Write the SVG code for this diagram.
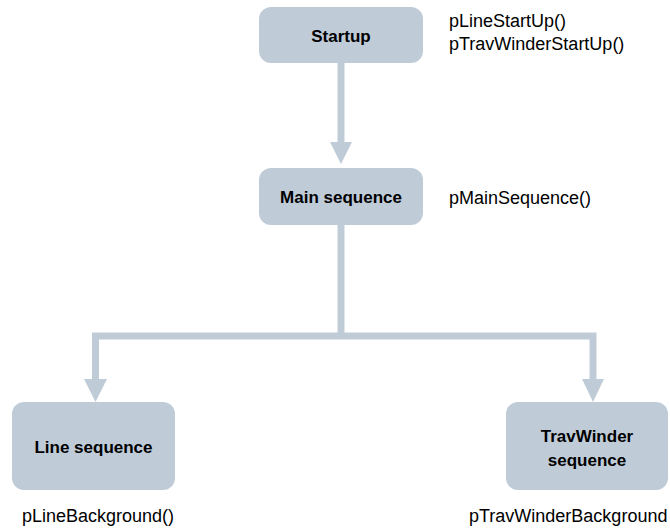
<svg xmlns="http://www.w3.org/2000/svg" width="670" height="530" viewBox="0 0 670 530">
<style>
.box{fill:#BFCCD8}
.lbl{font-family:"Liberation Sans",Arial,sans-serif;font-weight:bold;font-size:17px;fill:#000;text-anchor:middle}
.fn{font-family:"Liberation Sans",Arial,sans-serif;font-size:18px;fill:#000}
.ln{fill:none;stroke:#BFCCD8;stroke-width:7}
.hd{fill:#BFCCD8}
</style>
<rect width="670" height="530" fill="#fff"/>
<g id="connectors">
<line class="ln" x1="341" y1="63" x2="341" y2="143"/>
<polygon class="hd" points="330,142 352,142 341,164"/>
<line class="ln" x1="341" y1="225" x2="341" y2="336"/>
<polyline class="ln" points="95.5,380 95.5,336 593,336 593,380"/>
<polygon class="hd" points="84,379 107,379 95.5,402"/>
<polygon class="hd" points="582,379 604,379 593,402"/>
</g>
<g id="startup">
<rect class="box" x="259" y="7" width="164" height="56" rx="12"/>
<text class="lbl" x="341" y="42">Startup</text>
<text class="fn" x="449" y="27">pLineStartUp()</text>
<text class="fn" x="449" y="50">pTravWinderStartUp()</text>
</g>
<g id="main">
<rect class="box" x="259" y="168" width="164" height="57" rx="12"/>
<text class="lbl" x="341" y="203">Main sequence</text>
<text class="fn" x="449" y="204">pMainSequence()</text>
</g>
<g id="line">
<rect class="box" x="12" y="402" width="163" height="88" rx="12"/>
<text class="lbl" x="93.5" y="453">Line sequence</text>
<text class="fn" x="22" y="522">pLineBackground()</text>
</g>
<g id="travwinder">
<rect class="box" x="506" y="402" width="162" height="88" rx="12"/>
<text class="lbl" x="587" y="442">TravWinder</text>
<text class="lbl" x="587" y="466">sequence</text>
<text class="fn" x="469" y="522">pTravWinderBackground</text>
</g>
</svg>
